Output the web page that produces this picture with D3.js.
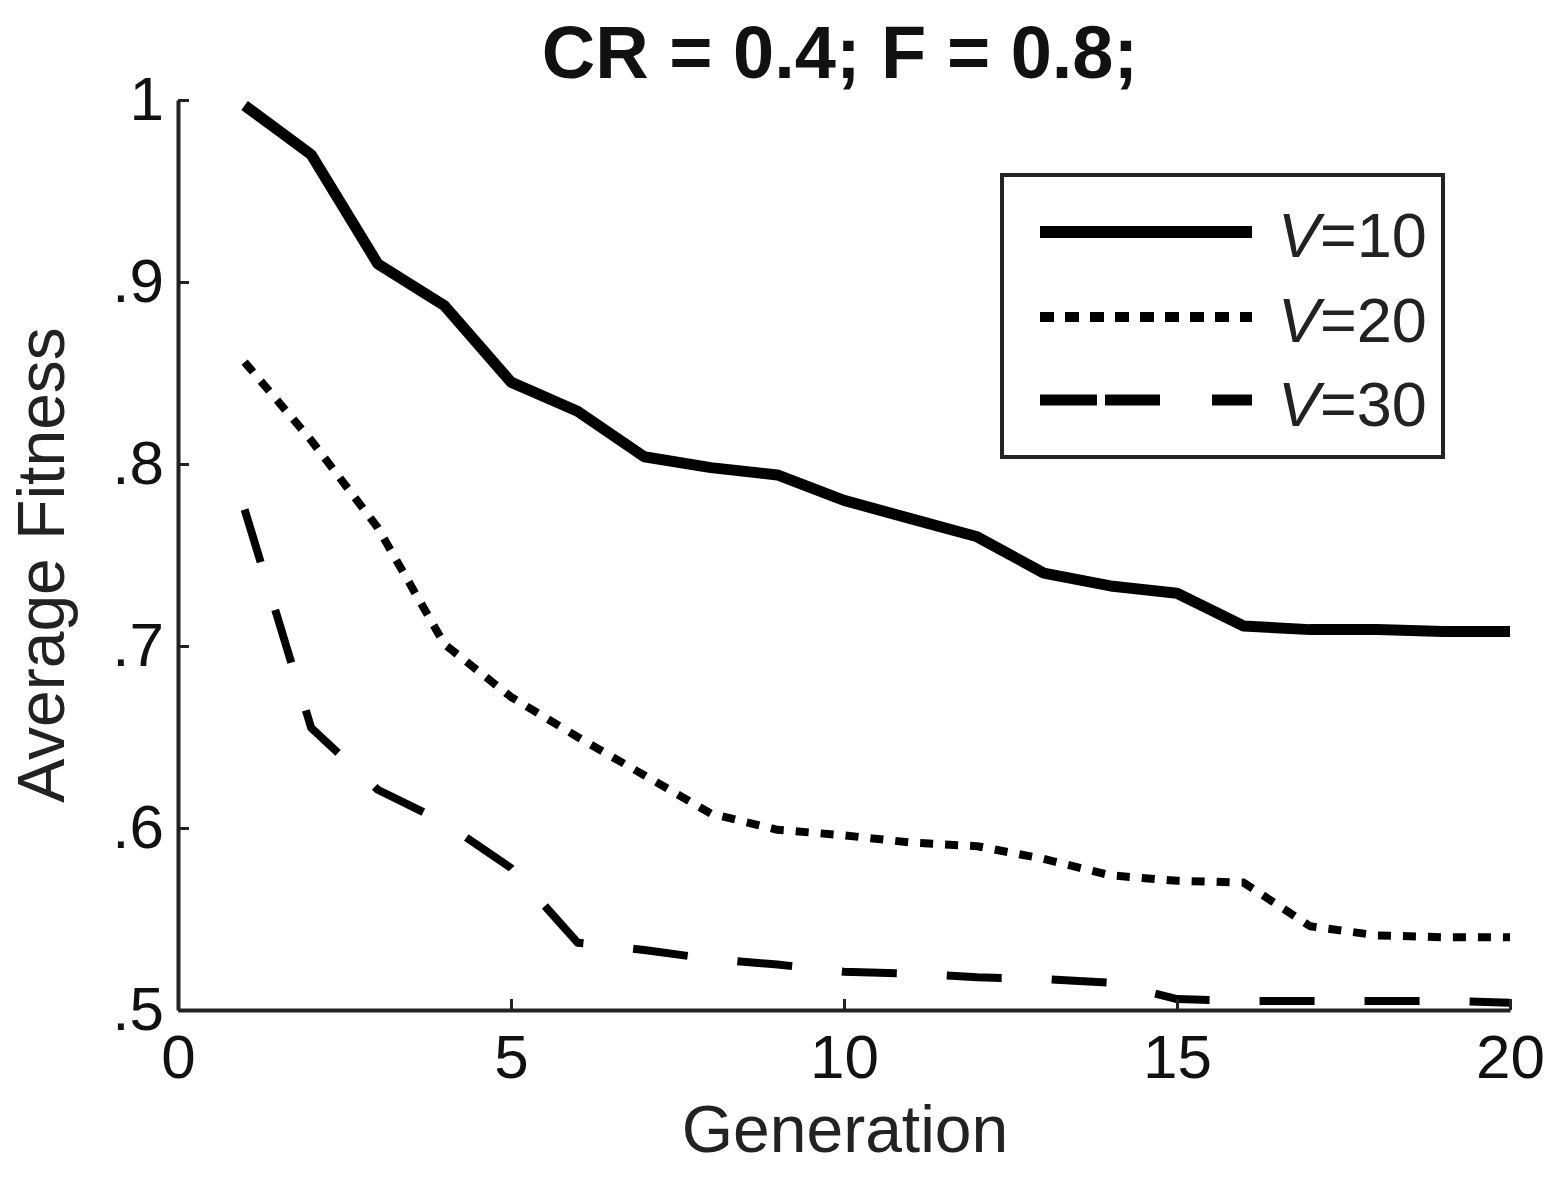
<!DOCTYPE html>
<html><head><meta charset="utf-8">
<script src="https://cdn.jsdelivr.net/npm/d3@7"></script>
<style>body{margin:0;background:#fff}svg{display:block}text{font-family:"Liberation Sans",Arial,sans-serif}</style>
</head><body>
<svg id="c" width="1560" height="1179"></svg>
<script>
const generations = [1,2,3,4,5,6,7,8,9,10,11,12,13,14,15,16,17,18,19,20];
const v10 = [0.997,0.970,0.910,0.887,0.845,0.829,0.804,0.798,0.794,0.780,0.770,0.760,0.740,0.733,0.729,0.711,0.709,0.709,0.708,0.708];
const v20 = [0.856,0.813,0.765,0.701,0.672,0.650,0.629,0.608,0.599,0.596,0.592,0.590,0.583,0.574,0.571,0.570,0.546,0.541,0.540,0.540];
const v30 = [0.775,0.655,0.621,0.603,0.578,0.537,0.533,0.528,0.525,0.521,0.520,0.518,0.517,0.515,0.506,0.505,0.505,0.505,0.505,0.504];
const seriesNames = ["V=10","V=20","V=30"];
const xTicks = [0,5,10,15,20];
const yTicks = [0.5,0.6,0.7,0.8,0.9,1];
const titleText = "CR = 0.4; F = 0.8;";
const xLabel = "Generation";
const yLabel = "Average Fitness";

const svg = d3.select("#c");
const x = d3.scaleLinear().domain([0,20]).range([178,1510]);
const y = d3.scaleLinear().domain([0.5,1]).range([1010,100]);

const styles = [
  {w:11, lw:12, dash:null, ldash:null},
  {w:8, lw:10, dash:"13,12", ldash:"14,11"},
  {w:8, lw:11, dash:"55,50", ldash:"57,8,55,52,40"}
];
const allSeries = [v10, v20, v30];
const line = d3.line().x(d=>x(d[0])).y(d=>y(d[1]));

allSeries.forEach((vals,i)=>{
  const pts = generations.map((g,j)=>[g, vals[j]]);
  svg.append("path").attr("d", line(pts)).attr("fill","none")
    .attr("stroke","#000").attr("stroke-width",styles[i].w)
    .attr("stroke-dasharray",styles[i].dash)
    .attr("stroke-linejoin","round");
});

const fmt = v => v===1 ? "1" : d3.format(".1f")(v).replace(/^0/,"");
const yAxis = d3.axisLeft(y).tickValues(yTicks).tickFormat(fmt).tickSizeInner(-11).tickSizeOuter(0).tickPadding(14);
const xAxis = d3.axisBottom(x).tickValues(xTicks).tickFormat(d3.format("d")).tickSizeInner(-11).tickSizeOuter(0).tickPadding(24);

const gy = svg.append("g").attr("transform","translate(178,0)").call(yAxis);
const gx = svg.append("g").attr("transform","translate(0,1010)").call(xAxis);
[gx,gy].forEach(g=>{
  g.select(".domain").attr("stroke","#222").attr("stroke-width",4);
  g.selectAll(".tick line").attr("stroke","#222").attr("stroke-width",3);
  g.selectAll(".tick text").attr("fill","#111").style("font-size","62px");
});

svg.append("text").attr("x",840).attr("y",78).attr("text-anchor","middle")
  .style("font-size","74px").style("font-weight","bold").attr("fill","#111").text(titleText);
svg.append("text").attr("x",845).attr("y",1152).attr("text-anchor","middle")
  .style("font-size","66px").attr("fill","#222").text(xLabel);
svg.append("text").attr("transform","translate(64,565) rotate(-90)").attr("text-anchor","middle")
  .style("font-size","66px").attr("fill","#222").text(yLabel);

// legend
const lg = svg.append("g");
lg.append("rect").attr("x",1002).attr("y",175).attr("width",441).attr("height",282)
  .attr("fill","#fff").attr("stroke","#222").attr("stroke-width",4);
const ly = [232,317,400];
const lb = [257,342,426];
seriesNames.forEach((n,i)=>{
  lg.append("line").attr("x1",1040).attr("x2",1252).attr("y1",ly[i]).attr("y2",ly[i])
    .attr("stroke","#000").attr("stroke-width",styles[i].lw).attr("stroke-dasharray",styles[i].ldash);
  const t = lg.append("text").attr("x",1278).attr("y",lb[i]).style("font-size","63px").attr("fill","#222");
  t.append("tspan").style("font-style","italic").text(n.split("=")[0]);
  t.append("tspan").text("="+n.split("=")[1]);
});
</script>
</body></html>
